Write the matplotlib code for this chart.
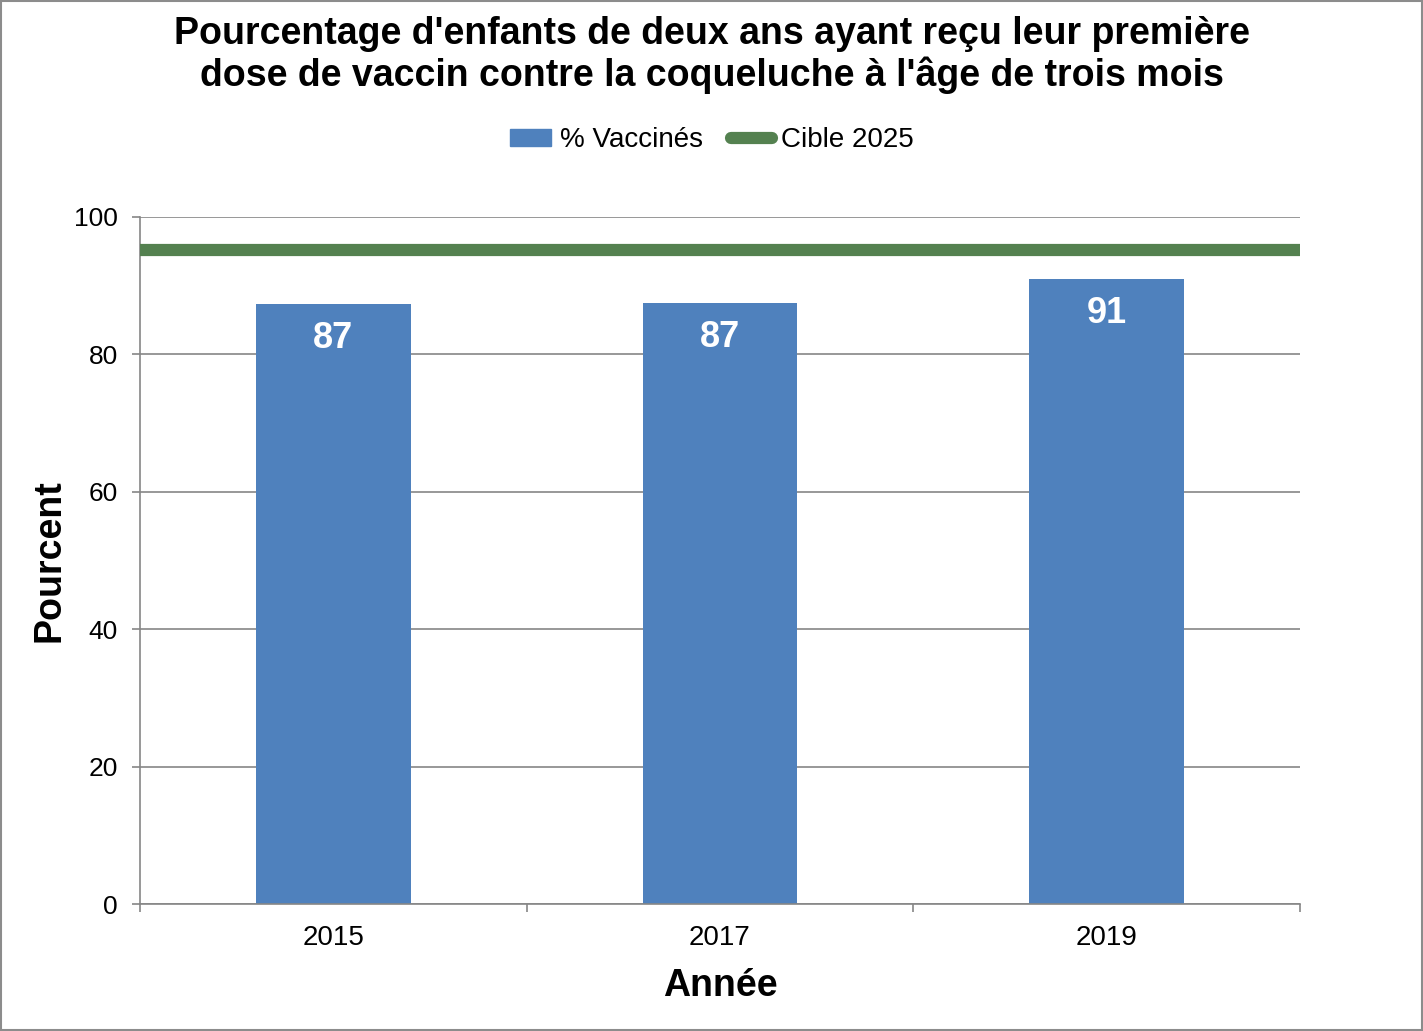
import matplotlib
matplotlib.use("Agg")
import matplotlib.pyplot as plt
from matplotlib.patches import Rectangle
from matplotlib.lines import Line2D

plt.rcParams['font.family'] = ['Liberation Sans', 'DejaVu Sans']

years = ["2015", "2017", "2019"]
vaccinated = [87.3, 87.4, 91.0]
labels = ["87", "87", "91"]
target = 95.2

title_lines = ["Pourcentage d'enfants de deux ans ayant reçu leur première",
               "dose de vaccin contre la coqueluche à l'âge de trois mois"]

W, H = 1423, 1031
fig = plt.figure(figsize=(W/100, H/100), dpi=100)
ax_top, ax_bot = 216.7, 904.3
ax = fig.add_axes([140/W, 1 - ax_bot/H, 1160/W, (ax_bot-ax_top)/H])

bar_color = "#4F81BD"
line_color = "#548150"
grid_color = "#868686"

x = list(range(len(years)))
ax.bar(x, vaccinated, width=0.4, color=bar_color, zorder=2)
ax.axhline(target, color=line_color, linewidth=8.8, zorder=3)

for xi, v, lab in zip(x, vaccinated, labels):
    ax.text(xi, v - 6.4, lab, ha='center', va='baseline', color='white',
            fontsize=26, fontweight='bold', zorder=4)

ax.set_xlim(-0.5, 2.5)
ax.set_ylim(0, 100)
ax.set_yticks(range(0, 101, 20))
ax.set_xticks(x)
ax.set_xticklabels(years)
ax.set_xticks([-0.5, 0.5, 1.5, 2.5], minor=True)
ax.tick_params(axis='x', which='major', length=0, labelsize=20, pad=15)
ax.tick_params(axis='x', which='minor', length=6, width=1.2, color=grid_color, direction='out')
ax.tick_params(axis='y', length=6, width=1.2, color=grid_color, labelsize=19, pad=10)

ax.grid(axis='y', color=grid_color, linewidth=1.2, zorder=0)
ax.set_axisbelow(True)
for s in ['top', 'right']:
    ax.spines[s].set_visible(False)
for s in ['left', 'bottom']:
    ax.spines[s].set_color(grid_color)
    ax.spines[s].set_linewidth(1.2)

ax.set_xlabel("Année", fontsize=27, fontweight='bold')
ax.xaxis.set_label_coords(0.5, (ax_bot - 968) / (ax_bot - ax_top))
ax.set_ylabel("Pourcent", fontsize=27, fontweight='bold')
ax.yaxis.set_label_coords((68 - 140) / 1160, 0.5)

fig.text(0.5, 1 - 44/H, title_lines[0], ha='center', va='baseline', fontsize=27, fontweight='bold')
fig.text(0.5, 1 - 86/H, title_lines[1], ha='center', va='baseline', fontsize=27, fontweight='bold')

handles = [Rectangle((0, 0), 1, 1, color=bar_color),
           Line2D([0], [0], color=line_color, linewidth=8.8, solid_capstyle='round')]
fig.legend(handles, ["% Vaccinés", "Cible 2025"], loc='center', bbox_to_anchor=(0.5, 1 - 140/H),
           ncol=2, frameon=False, fontsize=20, handlelength=1.5, handleheight=0.55,
           handletextpad=0.3, columnspacing=1.0)

fig.patches.append(Rectangle((0.0007, 0.001), 0.9986, 0.998, transform=fig.transFigure,
                             fill=False, edgecolor='#8C8C8C', linewidth=1.5))

fig.savefig("out.png", dpi=100, facecolor='white')
